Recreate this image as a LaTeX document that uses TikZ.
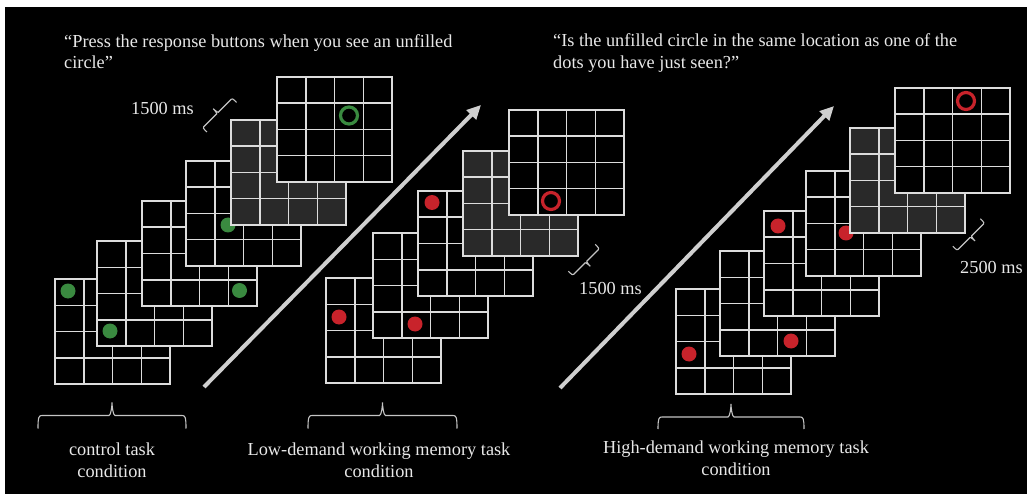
\documentclass[tikz,border=0pt]{standalone}
\usepackage{fontspec}
\setmainfont{Liberation Serif}
\usetikzlibrary{arrows.meta}
\definecolor{gridc}{HTML}{DCDCDC}
\definecolor{darkc}{HTML}{292929}
\definecolor{dotgreen}{HTML}{3A8A40}
\definecolor{dotred}{HTML}{C8232B}
\definecolor{txtc}{HTML}{E8E8E8}
\definecolor{arrowc}{HTML}{CFCFCF}
\definecolor{bracec}{HTML}{C4C4C4}
\begin{document}
\begin{tikzpicture}[x=1pt,y=-1pt,
  gridline/.style={draw=gridc, line width=1.5pt},
  gdot/.style={circle, fill=dotgreen, minimum size=15pt, inner sep=0pt},
  rdot/.style={circle, fill=dotred, minimum size=15pt, inner sep=0pt},
  gring/.style={circle, draw=dotgreen, line width=3.2pt, minimum size=17pt, inner sep=0pt},
  rring/.style={circle, draw=dotred, line width=3.2pt, minimum size=17pt, inner sep=0pt},
  txt/.style={text=txtc, inner sep=0pt, font=\fontsize{18.3}{21.7}\selectfont},
  timearrow/.style={draw=arrowc, line width=4pt, -{Triangle[length=14pt,width=13pt]}},
  bracestyle/.style={draw=bracec, line width=1.1pt},
  pics/taskgrid/.style={code={
    \fill[#1] (0,0) rectangle (115,105);
    \foreach \k in {1,2,3}{
      \draw[gridline] ({\k*28.75},0) -- ({\k*28.75},105);
      \draw[gridline] (0,{\k*26.25}) -- (115,{\k*26.25});
    }
    \draw[gridline] (0,0) rectangle (115,105);
  }},
  % #1 half length, #2 hook depth, #3 tip height, #4 corner rounding
  pics/tbrace/.style n args={4}{code={
    \draw[bracestyle] (-#1,#2) .. controls (-#1,{#4*0.25}) and ({-#1+#4*0.25},0) .. ({-#1+#4},0)
      -- ({-#4*0.75},0) .. controls ({-#4*0.25},0) and (0,{-#3+#4*0.75}) .. (0,-#3)
      .. controls (0,{-#3+#4*0.75}) and ({#4*0.25},0) .. ({#4*0.75},0)
      -- ({#1-#4},0) .. controls ({#1-#4*0.25},0) and (#1,{#4*0.25}) .. (#1,#2);
  }}
]
\useasboundingbox (0,0) rectangle (1027,494);
\fill[white] (0,0) rectangle (1027,494);
\fill[black] (5,7) rectangle (1027,494);

% ---------- control task condition ----------
\pic (c1) at (55,279) {taskgrid=black};
\node[gdot] (cd1) at (68,291) {};
\pic (c2) at (97,241) {taskgrid=black};
\node[gdot] (cd2) at (110,331) {};
\pic (c3) at (142,201) {taskgrid=black};
\node[gdot] (cd3) at (239.5,290.5) {};
\pic (c4) at (186,161) {taskgrid=black};
\node[gdot] (cd4) at (228,225) {};
\pic (c5) at (231,120) {taskgrid=darkc};
\pic (c6) at (277,77) {taskgrid=black};
\node[gring] (cr6) at (349,115.5) {};

% ---------- low-demand condition ----------
\pic (l1) at (326,278) {taskgrid=black};
\node[rdot] (ld1) at (339,317) {};
\pic (l2) at (373,233) {taskgrid=black};
\node[rdot] (ld2) at (415,324) {};
\pic (l3) at (418,191) {taskgrid=black};
\node[rdot] (ld3) at (432,202.5) {};
\pic (l4) at (463,151) {taskgrid=darkc};
\pic (l5) at (509,110) {taskgrid=black};
\node[rring] (lr5) at (551,201) {};

% ---------- high-demand condition ----------
\pic (h1) at (676,289) {taskgrid=black};
\node[rdot] (hd1) at (689,354) {};
\pic (h2) at (720,251) {taskgrid=black};
\node[rdot] (hd2) at (791,341) {};
\pic (h3) at (764,211) {taskgrid=black};
\node[rdot] (hd3) at (778,226) {};
\pic (h4) at (806,171) {taskgrid=black};
\node[rdot] (hd4) at (846,233) {};
\pic (h5) at (850,128) {taskgrid=darkc};
\pic (h6) at (895,88) {taskgrid=black};
\node[rring] (hr6) at (966,101) {};

% ---------- time arrows ----------
\coordinate (a1s) at (204,387);
\coordinate (a1e) at (481,105);
\draw[timearrow] (a1s) -- (a1e);
\coordinate (a2s) at (560,388);
\coordinate (a2e) at (834,106);
\draw[timearrow] (a2s) -- (a2e);

% ---------- duration braces ----------
\pic[rotate=45] at (217.5,113) {tbrace={21}{6}{6}{1.5}};
\pic[rotate=-135] at (586,262) {tbrace={19}{6}{6}{1.5}};
\pic[rotate=-135] at (970.8,236.7) {tbrace={19.5}{6}{6}{1.5}};

\node[txt, anchor=base west] (t1) at (131,115) {1500 ms};
\node[txt, anchor=base west] (t2) at (579,294) {1500 ms};
\node[txt, anchor=base west] (t3) at (960,273) {2500 ms};

% ---------- condition braces ----------
\pic at (112,415.5) {tbrace={74}{13}{13}{4}};
\pic at (382.5,415.5) {tbrace={74.5}{13}{13}{4}};
\pic at (731,417) {tbrace={73}{12}{13}{4}};

% ---------- texts ----------
\node[txt, anchor=north west, align=left] (q1) at (64,34)
  {“Press the response buttons when you see an unfilled\\circle”};
\node[txt, anchor=north west, align=left] (q2) at (553,33.6)
  {“Is the unfilled circle in the same location as one of the\\dots you have just seen?”};
\node[txt, anchor=north, align=center] (lc) at (112,442.6)
  {control task\\condition};
\node[txt, anchor=north, align=center] (ll) at (379,442.6)
  {Low-demand working memory task\\condition};
\node[txt, anchor=north, align=center] (lh) at (736,440.6)
  {High-demand working memory task\\condition};
\end{tikzpicture}
\end{document}
